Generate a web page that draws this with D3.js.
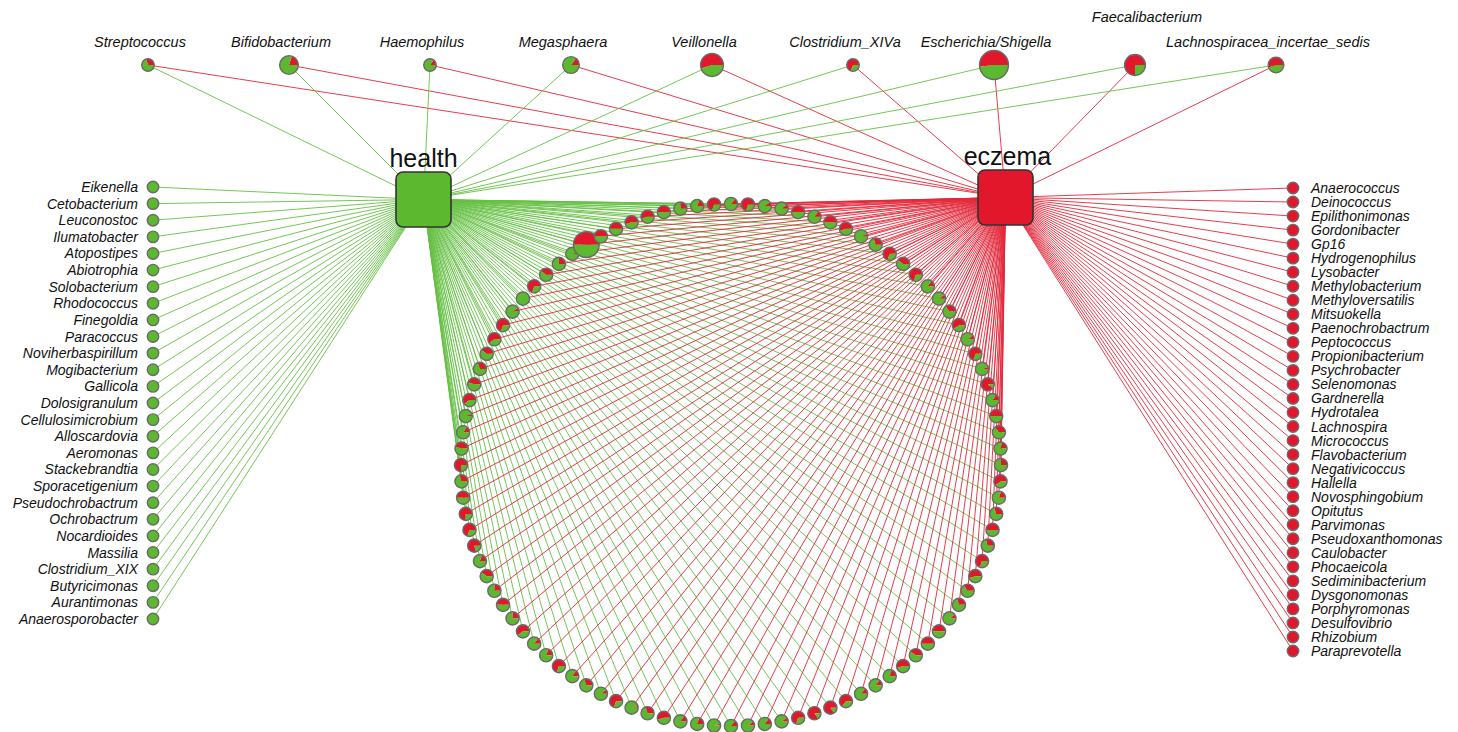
<!DOCTYPE html>
<html lang="en">
<head>
  <meta charset="UTF-8" />
  <title>health / eczema genus network</title>
  <script src="https://cdn.jsdelivr.net/npm/d3@7/dist/d3.min.js"></script>
  <style>
    html, body { margin: 0; padding: 0; background: #fff; }
    svg text { font-family: "Liberation Sans", Arial, sans-serif; fill: #111; }
  </style>
</head>
<body>
<div id="chart"></div>
<script>
// genera present in both groups, drawn along the top row
const topGenera = ["Streptococcus", "Bifidobacterium", "Haemophilus", "Megasphaera", "Veillonella",
  "Clostridium_XIVa", "Escherichia/Shigella", "Faecalibacterium", "Lachnospiracea_incertae_sedis"];
const topRed = [0.3, 0.2, 0.15, 0.15, 0.55, 0.7, 0.52, 0.75, 0.55];   // share found in eczema
const topAbund = [0.9, 2.0, 0.9, 1.6, 3.0, 0.9, 4.8, 2.5, 1.4];

// genera only found in health
const healthOnly = ["Eikenella", "Cetobacterium", "Leuconostoc", "Ilumatobacter", "Atopostipes", "Abiotrophia",
  "Solobacterium", "Rhodococcus", "Finegoldia", "Paracoccus", "Noviherbaspirillum", "Mogibacterium", "Gallicola",
  "Dolosigranulum", "Cellulosimicrobium", "Alloscardovia", "Aeromonas", "Stackebrandtia", "Sporacetigenium",
  "Pseudochrobactrum", "Ochrobactrum", "Nocardioides", "Massilia", "Clostridium_XIX", "Butyricimonas",
  "Aurantimonas", "Anaerosporobacter"];

// genera only found in eczema
const eczemaOnly = ["Anaerococcus", "Deinococcus", "Epilithonimonas", "Gordonibacter", "Gp16", "Hydrogenophilus",
  "Lysobacter", "Methylobacterium", "Methyloversatilis", "Mitsuokella", "Paenochrobactrum", "Peptococcus",
  "Propionibacterium", "Psychrobacter", "Selenomonas", "Gardnerella", "Hydrotalea", "Lachnospira", "Micrococcus",
  "Flavobacterium", "Negativicoccus", "Hallella", "Novosphingobium", "Opitutus", "Parvimonas", "Pseudoxanthomonas",
  "Caulobacter", "Phocaeicola", "Sediminibacterium", "Dysgonomonas", "Porphyromonas", "Desulfovibrio", "Rhizobium",
  "Paraprevotella"];

// shared genera on the ring, clockwise from the top: eczema share
const sharedRed = [
  0.15, 0.7, 0.1, 0.1, 0.5, 0.15, 0.5, 0.55, 0.05, 0.3,
  0.7, 0.4, 0.7, 0.15, 0.1, 0.35, 0.6, 0.1, 0.7, 0.05,
  0.9, 0.15, 0.5, 0.35, 0.2, 0.25, 0.6, 0.2, 0.3, 0.5,
  0.3, 0.7, 0.55, 0.35, 0.3, 0.1, 0.5, 0.5, 0.4, 0.55,
  0.2, 0.15, 0.15, 0.65, 0.85, 0.85, 0.7, 0.1, 0.15, 0.1,
  0.15, 0.05, 0.2, 0.15, 0.55, 0.3, 0.05, 0.7, 0.1, 0.3,
  0.15, 0.7, 0.2, 0.15, 0.6, 0.25, 0.5, 0.25, 0.4, 0.2,
  0.8, 0.7, 0.75, 0.5, 0.3, 0.75, 0.45, 0.15, 0.05, 0.6,
  0.45, 0.3, 0.4, 0.6, 0.7, 0.1, 0.0, 0.7, 0.4, 0.25,
  0.05, 0.5, 0.5, 0.5, 0.55, 0.55, 0.5, 0.25, 0.2, 0.7
];
const sharedAbund = [
  1, 1, 1, 1, 1, 1, 1, 1, 1, 1,
  1, 1, 1, 1, 1, 1, 1, 1, 1, 1,
  1, 1, 1, 1, 1, 1, 1, 1, 1, 1,
  1, 1, 1, 1, 1, 1, 1, 1, 1, 1,
  1, 1, 1, 1, 1, 1, 1, 1, 1, 1,
  1, 1, 1, 1, 1, 1, 1, 1, 1, 1,
  1, 1, 1, 1, 1, 1, 1, 1, 1, 1,
  1, 1, 1, 1, 1, 1, 1, 1, 1, 1,
  1, 1, 1, 1, 1, 1, 1, 1, 1, 1,
  1, 3.8, 1, 1, 1, 1, 1, 1, 1, 1
];

const width = 1458, height = 732;
const green = "#5cb82f", red = "#e2172c";
const greenLine = "#66c045", redLine = "#e2293b";
const nodeStroke = "#6a6a6a";

const health = { x: 423.5, y: 199.5, name: "health" };
const eczema = { x: 1005.5, y: 197.5, name: "eczema" };

const svg = d3.select("#chart").append("svg")
  .attr("width", width).attr("height", height);

// scales
const rScale = d3.scaleSqrt().domain([0, 1]).range([0, 6.6]);
const topX = d3.scalePoint().domain(topGenera).range([148, 1276]);
const topY = 65;
const leftY = d3.scalePoint().domain(healthOnly).range([187, 619]);
const rightY = d3.scalePoint().domain(eczemaOnly).range([188, 651]);
const leftX = 153, rightX = 1293;
const ring = { cx: 731, cy: 465, rx: 270, ry: 261 };
const ringAngle = d3.scaleLinear().domain([0, sharedRed.length]).range([0, 2 * Math.PI]);

const topNodes = topGenera.map((g, i) => ({ name: g, x: topX(g), y: topY, red: topRed[i], r: rScale(topAbund[i]) }));
const leftNodes = healthOnly.map(g => ({ name: g, x: leftX, y: leftY(g), red: 0, r: rScale(0.75) }));
const rightNodes = eczemaOnly.map(g => ({ name: g, x: rightX, y: rightY(g), red: 1, r: rScale(0.75) }));
const ringNodes = sharedRed.map((f, i) => {
  const a = ringAngle(i);
  return { x: ring.cx + ring.rx * Math.sin(a), y: ring.cy - ring.ry * Math.cos(a), red: f, r: rScale(sharedAbund[i]) };
});

// edges
const edges = [];
leftNodes.forEach(n => edges.push({ s: n, t: health, c: greenLine }));
rightNodes.forEach(n => edges.push({ s: n, t: eczema, c: redLine }));
ringNodes.forEach(n => edges.push({ s: n, t: health, c: greenLine }));
ringNodes.forEach(n => edges.push({ s: n, t: eczema, c: redLine }));
topNodes.forEach(n => {
  edges.push({ s: n, t: health, c: greenLine });
  edges.push({ s: n, t: eczema, c: redLine });
});

svg.append("g")
  .selectAll("line")
  .data(edges)
  .join("line")
  .attr("x1", d => d.s.x).attr("y1", d => d.s.y)
  .attr("x2", d => d.t.x).attr("y2", d => d.t.y)
  .attr("stroke", d => d.c)
  .attr("stroke-width", 1)
  .attr("stroke-opacity", 0.9);

// pie nodes: eczema slice runs counter-clockwise from 3 o'clock
const pie = d3.pie().sort(null).startAngle(Math.PI / 2).endAngle(Math.PI / 2 - 2 * Math.PI);
const arc = d3.arc().innerRadius(0);

function drawPies(sel, nodes) {
  const g = sel.append("g").selectAll("g")
    .data(nodes)
    .join("g")
    .attr("transform", d => `translate(${d.x},${d.y})`);
  g.selectAll("path")
    .data(d => pie([d.red, 1 - d.red]).map(p => ({ ...p, r: d.r })))
    .join("path")
    .attr("d", p => arc.outerRadius(p.r)(p))
    .attr("fill", (p, i) => i === 0 ? red : green);
  g.append("circle")
    .attr("r", d => d.r)
    .attr("fill", "none")
    .attr("stroke", nodeStroke)
    .attr("stroke-width", 1.4);
  return g;
}

drawPies(svg, ringNodes);
drawPies(svg, leftNodes);
drawPies(svg, rightNodes);
drawPies(svg, topNodes);

// group nodes
const side = 55;
svg.append("g")
  .selectAll("rect")
  .data([health, eczema])
  .join("rect")
  .attr("x", d => d.x - side / 2).attr("y", d => d.y - side / 2)
  .attr("width", side).attr("height", side)
  .attr("rx", 7)
  .attr("fill", d => d.name === "health" ? green : red)
  .attr("stroke", "#333")
  .attr("stroke-width", 1.6);

svg.append("g")
  .selectAll("text")
  .data([health, eczema])
  .join("text")
  .attr("x", d => d.x + (d.name === "health" ? 0 : 2))
  .attr("y", d => d.y - 33)
  .attr("text-anchor", "middle")
  .attr("font-size", 25)
  .text(d => d.name);

// labels
svg.append("g")
  .selectAll("text")
  .data(topNodes)
  .join("text")
  .attr("x", d => d.name === "Faecalibacterium" ? d.x + 12 : d.x - 8)
  .attr("y", d => d.name === "Faecalibacterium" ? 22 : 47)
  .attr("text-anchor", "middle")
  .attr("font-size", 14.5)
  .attr("font-style", "italic")
  .text(d => d.name);

svg.append("g")
  .selectAll("text")
  .data(leftNodes)
  .join("text")
  .attr("x", d => d.x - 15)
  .attr("y", d => d.y + 5)
  .attr("text-anchor", "end")
  .attr("font-size", 14)
  .attr("font-style", "italic")
  .text(d => d.name);

svg.append("g")
  .selectAll("text")
  .data(rightNodes)
  .join("text")
  .attr("x", d => d.x + 18)
  .attr("y", d => d.y + 5)
  .attr("font-size", 14)
  .attr("font-style", "italic")
  .text(d => d.name);
</script>
</body>
</html>
